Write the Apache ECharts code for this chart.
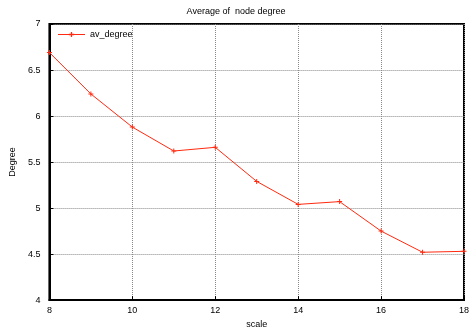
<!DOCTYPE html>
<html><head><meta charset="utf-8">
<script src="https://cdn.jsdelivr.net/npm/echarts@6/dist/echarts.min.js"></script>
<style>html,body{margin:0;padding:0;background:#fff}#c{width:472px;height:334px}</style>
</head><body><div id="c"></div>
<script>
const scale = [8, 9, 10, 11, 12, 13, 14, 15, 16, 17, 18];
const avDegree = [6.69, 6.24, 5.88, 5.62, 5.66, 5.29, 5.04, 5.07, 4.75, 4.52, 4.53];
const seriesName = 'av_degree';
const chart = echarts.init(document.getElementById('c'));
const plus = 'path://M0,2L5,2L5,3L0,3Z M2,0L3,0L3,5L2,5Z';
const legendIcon = 'path://M0,2.6L26,2.6L26,3.4L0,3.4Z M12.4,0.5L13.6,0.5L13.6,5.5L12.4,5.5Z M10.5,2.3L15.5,2.3L15.5,3.7L10.5,3.7Z';
chart.setOption({
  animation: false,
  backgroundColor: '#fff',
  textStyle: {fontFamily: 'Liberation Sans, Arial, sans-serif'},
  title: {text: 'Average of  node degree', left: 'center', top: 2,
    textStyle: {fontSize: 9, fontWeight: 'normal', color: '#000'}},
  legend: {left: 58, top: 30, padding: 0, itemWidth: 27, itemHeight: 6, itemGap: 4,
    textStyle: {fontSize: 9, color: '#000'},
    data: [{name: seriesName, icon: legendIcon}]},
  grid: {left: 48, right: 4, top: 24, bottom: 30, show: true, borderColor: '#000', borderWidth: 2},
  xAxis: {type: 'value', min: 8, max: 18, interval: 2, name: 'scale', nameLocation: 'middle', nameGap: 18,
    nameTextStyle: {fontSize: 9, color: '#000'},
    axisLine: {lineStyle: {color: '#000', width: 2}},
    axisTick: {inside: true, length: 4, lineStyle: {color: '#000'}},
    axisLabel: {fontSize: 9, color: '#000', margin: 6},
    splitLine: {lineStyle: {color: '#888', type: 'dotted', width: 1}}},
  yAxis: {type: 'value', min: 4, max: 7, interval: 0.5, name: 'Degree', nameLocation: 'middle', nameGap: 32,
    nameTextStyle: {fontSize: 9, color: '#000'},
    axisLine: {show: true, lineStyle: {color: '#000', width: 2}},
    axisTick: {show: true, inside: true, length: 4, lineStyle: {color: '#000'}},
    axisLabel: {fontSize: 9, color: '#000', margin: 9},
    splitLine: {lineStyle: {color: '#888', type: 'dotted', width: 1}}},
  series: [{name: seriesName, type: 'line', data: scale.map((x, i) => [x, avDegree[i]]),
    symbol: plus, symbolSize: 5, showAllSymbol: true,
    lineStyle: {color: '#ff2a10', width: 1},
    itemStyle: {color: '#ff2a10'}}]
});
</script></body></html>
